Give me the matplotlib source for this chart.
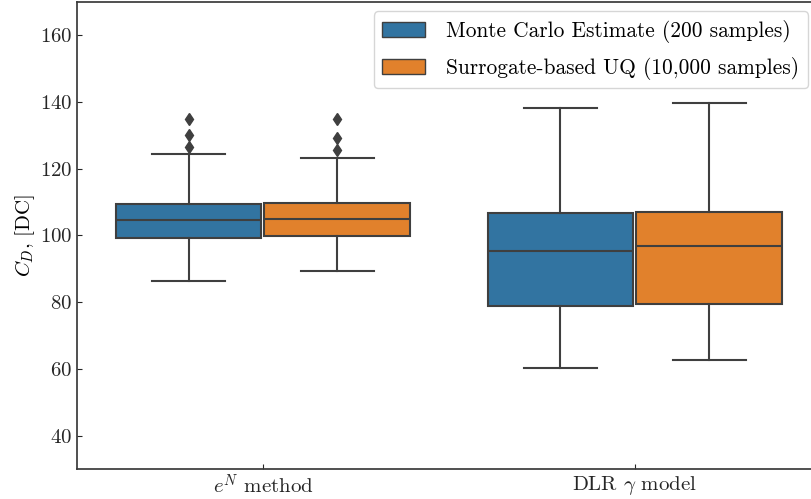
import numpy as np
import matplotlib
matplotlib.use("Agg")
import matplotlib.pyplot as plt
from matplotlib.patches import Patch

plt.rcParams['font.family'] = ['cmr10', 'DejaVu Serif']
plt.rcParams['mathtext.fontset'] = 'cm'
plt.rcParams['axes.formatter.use_mathtext'] = True
plt.rcParams['font.size'] = 15

# data
categories = [r'$e^N$ method', r'DLR $\gamma$ model']
series = ['Monte Carlo Estimate (200 samples)', 'Surrogate-based UQ (10,000 samples)']
colors = ['#3274a1', '#e1812c']

# per series: [e^N, DLR]
med = [[104.6, 95.2], [105.0, 96.9]]
q1 = [[99.1, 79.0], [99.8, 79.5]]
q3 = [[109.3, 106.6], [109.7, 107.1]]
whislo = [[86.3, 60.3], [89.5, 62.8]]
whishi = [[124.4, 138.1], [123.1, 139.8]]
fliers = [[[135.0, 130.0, 126.6], []], [[135.0, 129.1, 125.5], []]]

fig = plt.figure(figsize=(8.12, 4.99), dpi=100)
ax = fig.add_axes([0.0948, 0.0601, 0.916, 0.936])

line_col = '#3f3f3f'
width = 0.8
for s in range(2):
    stats = []
    for c in range(2):
        stats.append(dict(med=med[s][c], q1=q1[s][c], q3=q3[s][c],
                          whislo=whislo[s][c], whishi=whishi[s][c],
                          fliers=fliers[s][c]))
    pos = np.arange(2) - width / 2 + width / 4 + s * width / 2
    ax.bxp(stats, positions=pos, widths=width / 2 * 0.98, patch_artist=True,
           manage_ticks=False,
           boxprops=dict(facecolor=colors[s], edgecolor=line_col, linewidth=1.5),
           medianprops=dict(color=line_col, linewidth=1.5),
           whiskerprops=dict(color=line_col, linewidth=1.5),
           capprops=dict(color=line_col, linewidth=1.5),
           flierprops=dict(marker='d', markerfacecolor=line_col, markeredgecolor=line_col,
                           markersize=6))

ax.set_xlim(-0.5, 1.5)
ax.set_ylim(30, 170)
ax.set_xticks([0, 1])
ax.set_xticklabels(categories)
ax.set_yticks([40, 60, 80, 100, 120, 140, 160])
ax.tick_params(direction='in', color='#262626', labelcolor='#262626')
ax.set_ylabel(r'$C_D$, [DC]', labelpad=2)
for sp in ax.spines.values():
    sp.set_color('#3a3a3a')
    sp.set_linewidth(1.25)

handles = [Patch(facecolor=colors[i], edgecolor=line_col, linewidth=1.0, label=series[i])
           for i in range(2)]
ax.legend(handles=handles, loc='upper right', bbox_to_anchor=(0.983, 0.98),
          borderaxespad=0, fontsize=15.4, handlelength=2.0, handletextpad=1.0,
          labelspacing=0.65, framealpha=0.8, edgecolor='#cccccc')

fig.savefig('out.png', dpi=100)
